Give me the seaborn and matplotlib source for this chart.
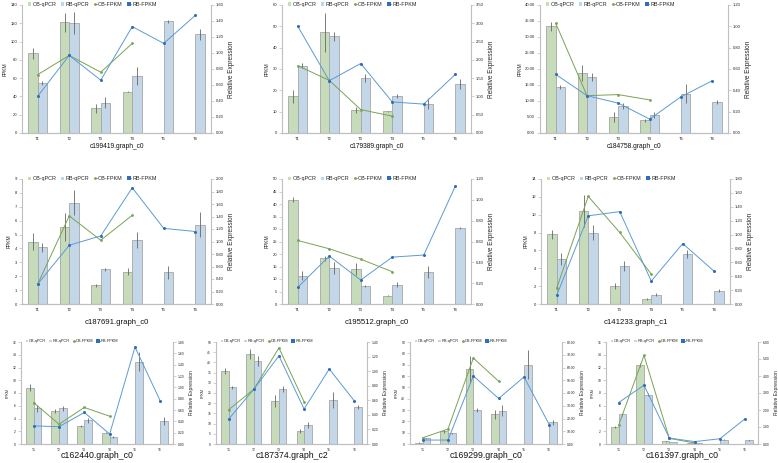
import numpy as np
import pandas as pd
import matplotlib
matplotlib.use('Agg')
import matplotlib.pyplot as plt
import seaborn as sns
from matplotlib.lines import Line2D
from matplotlib.patches import Patch
from matplotlib.ticker import MultipleLocator, FormatStrFormatter

sns.set_theme(style='white')
plt.rcParams['font.family'] = ['Liberation Sans', 'DejaVu Sans']

times = ['T1', 'T2', 'T3', 'T4', 'T5', 'T6']
series_names = ['OB-qPCR', 'RB-qPCR', 'OB-FPKM', 'RB-FPKM']

# bars (left axis, FPKM) and lines (right axis, relative expression) for each gene
c199419_ob = [87, 121, 27, 45]
c199419_ob_err = [6, 10, 5, 0.4]
c199419_rb = [55, 120, 33, 62, 122, 108]
c199419_rb_err = [2, 12, 6, 10, 2, 6]
c199419_ob_line = [0.73, 0.97, 0.76, 1.12]
c199419_rb_line = [0.46, 0.97, 0.66, 1.33, 1.12, 1.47]

c179389_ob = [17.2, 47.2, 10.9, 10.2]
c179389_ob_err = [3, 9, 1.5, 0.3]
c179389_rb = [31.6, 45.3, 25.8, 17.2, 13.8, 23.0]
c179389_rb_err = [1, 2, 2, 1, 2.5, 2.5]
c179389_ob_line = [1.84, 1.44, 0.64, 0.46]
c179389_rb_line = [2.92, 1.43, 1.90, 0.85, 0.79, 1.60]

c184758_ob = [33.3, 18.75, 5.0, 4.0]
c184758_ob_err = [1.5, 2.5, 1.5, 0.5]
c184758_rb = [14.4, 17.4, 8.5, 5.7, 12.3, 9.7]
c184758_rb_err = [0.5, 1.2, 1, 1, 3, 0.6]
c184758_ob_line = [1.03, 0.35, 0.36, 0.31]
c184758_rb_line = [0.55, 0.35, 0.28, 0.13, 0.34, 0.49]

c187691_ob = [4.5, 5.55, 1.36, 2.32]
c187691_ob_err = [0.6, 1.0, 0.1, 0.25]
c187691_rb = [4.07, 7.3, 2.51, 4.6, 2.27, 5.7]
c187691_rb_err = [0.3, 0.9, 0.1, 0.6, 0.5, 0.9]
c187691_ob_line = [0.32, 1.41, 1.02, 1.42]
c187691_rb_line = [0.32, 0.94, 1.09, 1.86, 1.21, 1.16]

c195512_ob = [41.7, 18.4, 14.1, 3.4]
c195512_ob_err = [1, 1, 2.5, 0.3]
c195512_rb = [11.3, 14.5, 7.4, 7.8, 12.9, 30.5]
c195512_rb_err = [1.8, 2.5, 0.4, 1, 2.5, 0.4]
c195512_ob_line = [0.61, 0.53, 0.43, 0.31]
c195512_rb_line = [0.16, 0.46, 0.23, 0.45, 0.47, 1.13]

c141233_ob = [7.8, 10.4, 2.0, 0.6]
c141233_ob_err = [0.5, 1.8, 0.3, 0.1]
c141233_rb = [5.06, 8.0, 4.27, 1.05, 5.6, 1.5]
c141233_rb_err = [0.7, 0.8, 0.6, 0.15, 0.5, 0.2]
c141233_ob_line = [0.23, 1.55, 1.03, 0.43]
c141233_rb_line = [0.125, 1.27, 1.33, 0.33, 0.87, 0.47]

c162440_ob = [8.85, 5.2, 2.8, 1.8]
c162440_ob_err = [0.5, 0.3, 0.2, 0.1]
c162440_rb = [5.57, 5.57, 3.75, 1.1, 12.9, 3.6]
c162440_rb_err = [0.5, 0.4, 0.4, 0.1, 1.5, 0.6]
c162440_ob_line = [0.73, 0.35, 0.645, 0.49]
c162440_rb_line = [0.32, 0.305, 0.557, 0.176, 1.71, 0.757]

c187374_ob = [35.7, 44.3, 21.2, 6.35]
c187374_ob_err = [1.5, 2.5, 3, 1]
c187374_rb = [27.7, 40.5, 26.9, 9.3, 21.5, 18.2]
c187374_rb_err = [0.7, 2.5, 1.5, 1.5, 4, 0.8]
c187374_ob_line = [0.47, 0.75, 1.32, 0.58]
c187374_rb_line = [0.34, 0.75, 1.21, 0.48, 1.03, 0.59]

c169299_ob = [1.2, 11.1, 66, 26.4]
c169299_ob_err = [0.2, 1.5, 12, 4]
c169299_rb = [5.0, 9.4, 29.9, 29.3, 70, 19]
c169299_rb_err = [0.5, 0.5, 2, 5, 13, 2]
c169299_ob_line = [4.9, 11.7, 67.4, 49.2]
c169299_rb_line = [3.1, 3.1, 53.4, 35.7, 52.6, 15.1]

c161397_ob = [2.66, 12.35, 0.42, 0.2]
c161397_ob_err = [0.2, 0.3, 0.03, 0.02]
c161397_rb = [4.64, 7.76, 0.26, 0.1, 0.68, 0.57]
c161397_rb_err = [0.2, 0.2, 0.02, 0.02, 0.03, 0.03]
c161397_ob_line = [1.11, 5.21, 0.33, 0.06]
c161397_rb_line = [2.44, 3.46, 0.35, 0.14, 0.31, 1.50]

bar_green = '#C5E0B4'
bar_blue = '#BDD7EE'
bar_edge = '#A6A6A6'
line_green = '#7AA354'
line_blue = '#5B9BD5'
mark_blue = '#2F6EBA'
spine_col = '#BFBFBF'

W, H = 778, 463
fig = plt.figure(figsize=(W / 100, H / 100), dpi=100)


def draw_panel(px, name, ob, ob_err, rb, rb_err, ob_line, rb_line,
               ymax, ystep, yfmt, rmax, rstep, rfmt, sizes):
    l, r, t, b, ty = px
    tick_fs, fpkm_fs, rel_fs, leg_fs, title_fs = sizes
    ax = fig.add_axes([l / W, 1 - b / H, (r - l) / W, (b - t) / H])
    n_ob = len(ob)
    df = pd.DataFrame({
        'time': times[:n_ob] + times,
        'group': ['OB-qPCR'] * n_ob + ['RB-qPCR'] * len(rb),
        'value': ob + rb,
    })
    sns.barplot(data=df, x='time', y='value', hue='group', order=times,
                hue_order=['OB-qPCR', 'RB-qPCR'], palette=[bar_green, bar_blue],
                width=0.6, errorbar=None, edgecolor=bar_edge, linewidth=0.6,
                legend=False, ax=ax)
    ax.errorbar(np.arange(n_ob) - 0.15, ob, yerr=ob_err, fmt='none',
                ecolor='#666666', elinewidth=0.6, capsize=0)
    ax.errorbar(np.arange(len(rb)) + 0.15, rb, yerr=rb_err, fmt='none',
                ecolor='#666666', elinewidth=0.6, capsize=0)

    ax2 = ax.twinx()
    sns.lineplot(x=np.arange(len(ob_line)), y=ob_line, color=line_green,
                 marker='o', markersize=2, markeredgewidth=0, linewidth=0.7, ax=ax2)
    sns.lineplot(x=np.arange(len(rb_line)), y=rb_line, color=line_blue,
                 marker='o', markersize=2.2, markeredgewidth=0,
                 markerfacecolor=mark_blue, linewidth=0.7, ax=ax2)

    ax.set_xlim(-0.5, 5.5)
    ax.set_ylim(0, ymax)
    ax2.set_ylim(0, rmax)
    ax.yaxis.set_major_locator(MultipleLocator(ystep))
    ax.yaxis.set_major_formatter(FormatStrFormatter(yfmt))
    ax2.yaxis.set_major_locator(MultipleLocator(rstep))
    ax2.yaxis.set_major_formatter(FormatStrFormatter(rfmt))

    ax.set_xlabel('')
    ax.set_ylabel('FPKM', fontsize=fpkm_fs, labelpad=2)
    ax2.set_ylabel('Relative Expression', fontsize=rel_fs, labelpad=3)

    for a in (ax, ax2):
        a.spines['top'].set_visible(False)
        for s in ('left', 'right', 'bottom'):
            a.spines[s].set_color(spine_col)
            a.spines[s].set_linewidth(0.8)
        a.tick_params(labelsize=tick_fs, length=2, width=0.5, color=spine_col,
                      pad=1.5, colors='#222222')
        a.grid(False)
    ax.spines['right'].set_visible(False)
    ax2.spines['left'].set_visible(False)
    ax.tick_params(axis='x', length=0, pad=3)

    handles = [
        Patch(facecolor=bar_green, edgecolor='none'),
        Patch(facecolor=bar_blue, edgecolor='none'),
        Line2D([], [], color=line_green, marker='o', markersize=2, markeredgewidth=0, linewidth=0.7),
        Line2D([], [], color=line_blue, marker='s', markersize=2.2, markeredgewidth=0,
               markerfacecolor=mark_blue, linewidth=0.7),
    ]
    ax2.legend(handles, series_names, loc='upper left', bbox_to_anchor=(0.02, 1.04),
               ncol=4, frameon=False, fontsize=leg_fs, handlelength=0.6,
               handleheight=0.6, handletextpad=0.2, columnspacing=0.9,
               borderaxespad=0)

    fig.text((l + r) / 2 / W, 1 - ty / H, name, ha='center', va='center',
             fontsize=title_fs, color='#111111')


big = (3.0, 3.6, 4.7, 3.9, 4.8)
mid = (3.0, 3.6, 4.7, 3.9, 5.6)
small = (2.4, 2.6, 3.6, 2.8, 6.3)

draw_panel((22, 211, 5, 133, 146), 'c199419.graph_c0', c199419_ob, c199419_ob_err,
           c199419_rb, c199419_rb_err, c199419_ob_line, c199419_rb_line,
           140, 20, '%d', 1.6, 0.2, '%.2f', big)
draw_panel((282, 471, 5, 133, 146), 'c179389.graph_c0', c179389_ob, c179389_ob_err,
           c179389_rb, c179389_rb_err, c179389_ob_line, c179389_rb_line,
           60, 10, '%d', 3.5, 0.5, '%.2f', big)
draw_panel((540, 728, 5, 133, 146), 'c184758.graph_c0', c184758_ob, c184758_ob_err,
           c184758_rb, c184758_rb_err, c184758_ob_line, c184758_rb_line,
           40, 5, '%.2f', 1.2, 0.2, '%.2f', big)

draw_panel((22, 211, 179, 304, 323), 'c187691.graph_c0', c187691_ob, c187691_ob_err,
           c187691_rb, c187691_rb_err, c187691_ob_line, c187691_rb_line,
           9, 1, '%d', 2.0, 0.2, '%.2f', mid)
draw_panel((282, 471, 179, 304, 323), 'c195512.graph_c0', c195512_ob, c195512_ob_err,
           c195512_rb, c195512_rb_err, c195512_ob_line, c195512_rb_line,
           50, 5, '%d', 1.2, 0.2, '%.2f', mid)
draw_panel((541, 730, 179, 304, 323), 'c141233.graph_c1', c141233_ob, c141233_ob_err,
           c141233_rb, c141233_rb_err, c141233_ob_line, c141233_rb_line,
           14, 2, '%d', 1.8, 0.2, '%.2f', mid)

draw_panel((21, 173, 342, 444, 456), 'c162440.graph_c0', c162440_ob, c162440_ob_err,
           c162440_rb, c162440_rb_err, c162440_ob_line, c162440_rb_line,
           16, 2, '%d', 1.8, 0.2, '%.2f', small)
draw_panel((216, 367, 342, 444, 456), 'c187374.graph_c2', c187374_ob, c187374_ob_err,
           c187374_rb, c187374_rb_err, c187374_ob_line, c187374_rb_line,
           50, 5, '%d', 1.4, 0.2, '%.2f', small)
draw_panel((410, 562, 342, 444, 456), 'c169299.graph_c0', c169299_ob, c169299_ob_err,
           c169299_rb, c169299_rb_err, c169299_ob_line, c169299_rb_line,
           90, 10, '%d', 80, 10, '%.2f', small)
draw_panel((606, 758, 342, 444, 456), 'c161397.graph_c0', c161397_ob, c161397_ob_err,
           c161397_rb, c161397_rb_err, c161397_ob_line, c161397_rb_line,
           16, 2, '%d', 6, 1, '%.2f', small)

fig.savefig('out.png', dpi=100, facecolor='white')
